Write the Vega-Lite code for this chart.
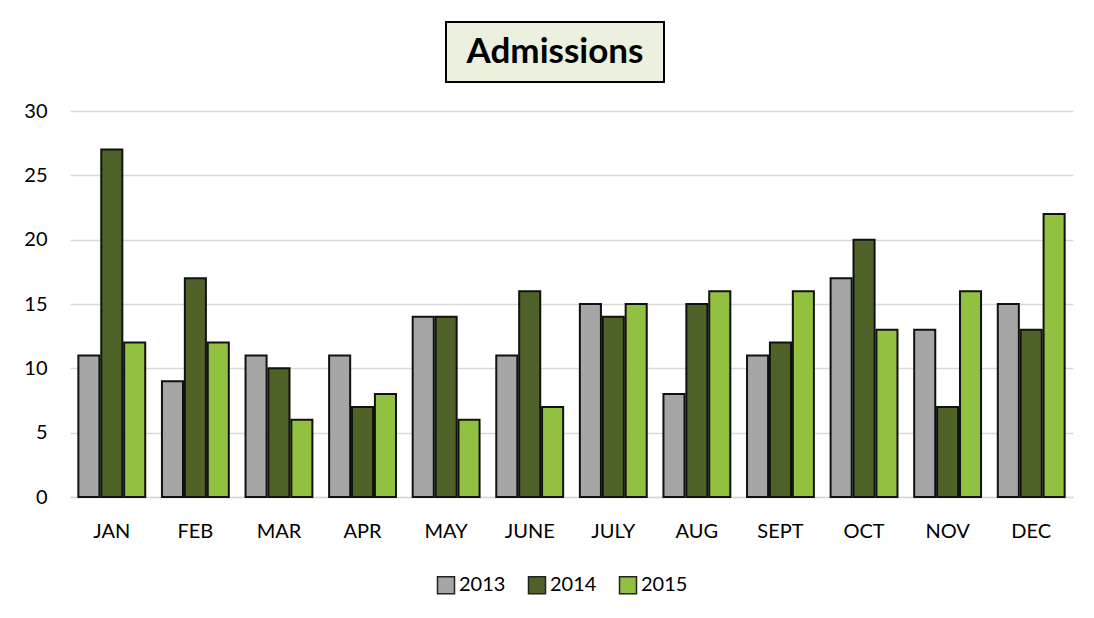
{
  "$schema": "https://vega.github.io/schema/vega-lite/v6.json",
  "background": "white",
  "padding": {"top": 21, "left": 23, "right": 21, "bottom": 5},
  "config": {
    "font": "Lato",
    "view": {"stroke": null},
    "concat": {"spacing": 18}
  },
  "center": true,
  "vconcat": [
    {
      "spacing": 0,
      "hconcat": [
        {
          "width": 218,
          "height": 60,
          "view": {"fill": "#ebf1de", "stroke": "#000000", "strokeWidth": 2},
          "data": {"values": [{"title": "Admissions"}]},
          "mark": {"type": "text", "font": "Lato", "fontSize": 35, "fontWeight": "bold", "color": "#000000", "baseline": "middle", "align": "center"},
          "encoding": {"text": {"field": "title"}}
        },
        {
          "width": 32,
          "height": 60,
          "data": {"values": [{"title": ""}]},
          "mark": {"type": "text"},
          "encoding": {"text": {"field": "title"}}
        }
      ]
    },
    {
      "width": 1003,
      "height": 386,
      "data": {
        "values": [
          {"month": "JAN", "year": "2013", "value": 11}, {"month": "JAN", "year": "2014", "value": 27}, {"month": "JAN", "year": "2015", "value": 12},
          {"month": "FEB", "year": "2013", "value": 9}, {"month": "FEB", "year": "2014", "value": 17}, {"month": "FEB", "year": "2015", "value": 12},
          {"month": "MAR", "year": "2013", "value": 11}, {"month": "MAR", "year": "2014", "value": 10}, {"month": "MAR", "year": "2015", "value": 6},
          {"month": "APR", "year": "2013", "value": 11}, {"month": "APR", "year": "2014", "value": 7}, {"month": "APR", "year": "2015", "value": 8},
          {"month": "MAY", "year": "2013", "value": 14}, {"month": "MAY", "year": "2014", "value": 14}, {"month": "MAY", "year": "2015", "value": 6},
          {"month": "JUNE", "year": "2013", "value": 11}, {"month": "JUNE", "year": "2014", "value": 16}, {"month": "JUNE", "year": "2015", "value": 7},
          {"month": "JULY", "year": "2013", "value": 15}, {"month": "JULY", "year": "2014", "value": 14}, {"month": "JULY", "year": "2015", "value": 15},
          {"month": "AUG", "year": "2013", "value": 8}, {"month": "AUG", "year": "2014", "value": 15}, {"month": "AUG", "year": "2015", "value": 16},
          {"month": "SEPT", "year": "2013", "value": 11}, {"month": "SEPT", "year": "2014", "value": 12}, {"month": "SEPT", "year": "2015", "value": 16},
          {"month": "OCT", "year": "2013", "value": 17}, {"month": "OCT", "year": "2014", "value": 20}, {"month": "OCT", "year": "2015", "value": 13},
          {"month": "NOV", "year": "2013", "value": 13}, {"month": "NOV", "year": "2014", "value": 7}, {"month": "NOV", "year": "2015", "value": 16},
          {"month": "DEC", "year": "2013", "value": 15}, {"month": "DEC", "year": "2014", "value": 13}, {"month": "DEC", "year": "2015", "value": 22}
        ]
      },
      "mark": {"type": "bar", "stroke": "#111111", "strokeWidth": 2, "cornerRadius": 0},
      "encoding": {
        "x": {
          "field": "month", "type": "nominal", "sort": null, "title": null,
          "scale": {"paddingInner": 0.2, "paddingOuter": 0.1},
          "axis": {"labelAngle": 0, "labelFontSize": 20, "labelColor": "#000000", "labelPadding": 24, "ticks": false, "domainColor": "#d9d9d9", "domainWidth": 1.5, "labelFont": "Lato"}
        },
        "xOffset": {"field": "year", "type": "nominal", "scale": {"paddingInner": 0.08}},
        "y": {
          "field": "value", "type": "quantitative", "title": null,
          "scale": {"domain": [0, 30]},
          "axis": {"values": [0, 5, 10, 15, 20, 25, 30], "labelFontSize": 20, "labelColor": "#000000", "labelPadding": 23, "ticks": false, "domain": false, "gridColor": "#d9d9d9", "gridWidth": 1.5, "labelFont": "Lato"}
        },
        "color": {
          "field": "year", "type": "nominal", "title": null,
          "scale": {"domain": ["2013", "2014", "2015"], "range": ["#a6a6a6", "#4f6228", "#92c040"]},
          "legend": {"orient": "none", "legendX": 366, "legendY": 553, "padding": 0, "direction": "horizontal", "symbolType": "square", "symbolSize": 289, "symbolStrokeColor": "#222222", "symbolStrokeWidth": 1.5, "labelFontSize": 20, "labelColor": "#000000", "labelFont": "Lato", "columnPadding": 19, "labelOffset": 3}
        }
      }
    }
  ]
}
